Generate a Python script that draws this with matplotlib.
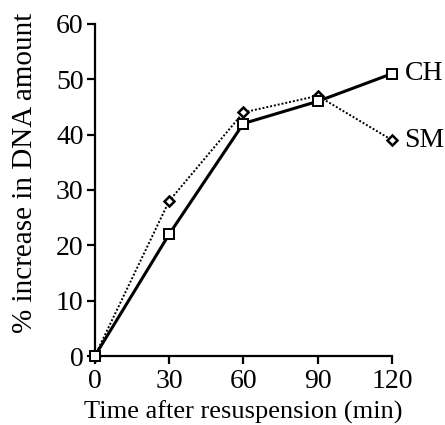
import matplotlib
matplotlib.use("Agg")
import matplotlib.pyplot as plt

plt.rcParams['font.family'] = ['Liberation Serif', 'DejaVu Serif']

time_min = [0, 30, 60, 90, 120]
ch_values = [0, 22, 42, 46, 51]
sm_values = [0, 28, 44, 47, 39]

fig = plt.figure(figsize=(4.45, 4.25), dpi=100)
ax = fig.add_axes([0.213, 0.162, 0.668, 0.782])

ax.plot(time_min, sm_values, color='black', linestyle=(0, (1, 1)), linewidth=1.4,
        marker='D', markersize=5.5, markerfacecolor='white', markeredgecolor='black',
        markeredgewidth=1.8, clip_on=False, zorder=3)
ax.plot(time_min, ch_values, color='black', linestyle='-', linewidth=2.2,
        marker='s', markersize=7, markerfacecolor='white', markeredgecolor='black',
        markeredgewidth=1.4, clip_on=False, zorder=4)

ax.text(time_min[-1] + 5, ch_values[-1], 'CH', fontsize=20, va='center', ha='left')
ax.text(time_min[-1] + 5, sm_values[-1], 'SM', fontsize=20, va='center', ha='left')

ax.set_xlim(0, 120)
ax.set_ylim(0, 60)
ax.set_xticks(time_min)
ax.set_yticks(range(0, 61, 10))
ax.spines['top'].set_visible(False)
ax.spines['right'].set_visible(False)
ax.spines['left'].set_linewidth(1.6)
ax.spines['bottom'].set_linewidth(1.6)
ax.tick_params(direction='out', length=6, width=1.6, labelsize=20, pad=2)
ax.tick_params(axis='x', pad=3)

ax.set_xlabel('Time after resuspension (min)', fontsize=19, labelpad=5)
ax.set_ylabel('% increase in DNA amount', fontsize=21)
ax.yaxis.set_label_coords(-0.19, 0.55)

fig.savefig('out.png', dpi=100)
